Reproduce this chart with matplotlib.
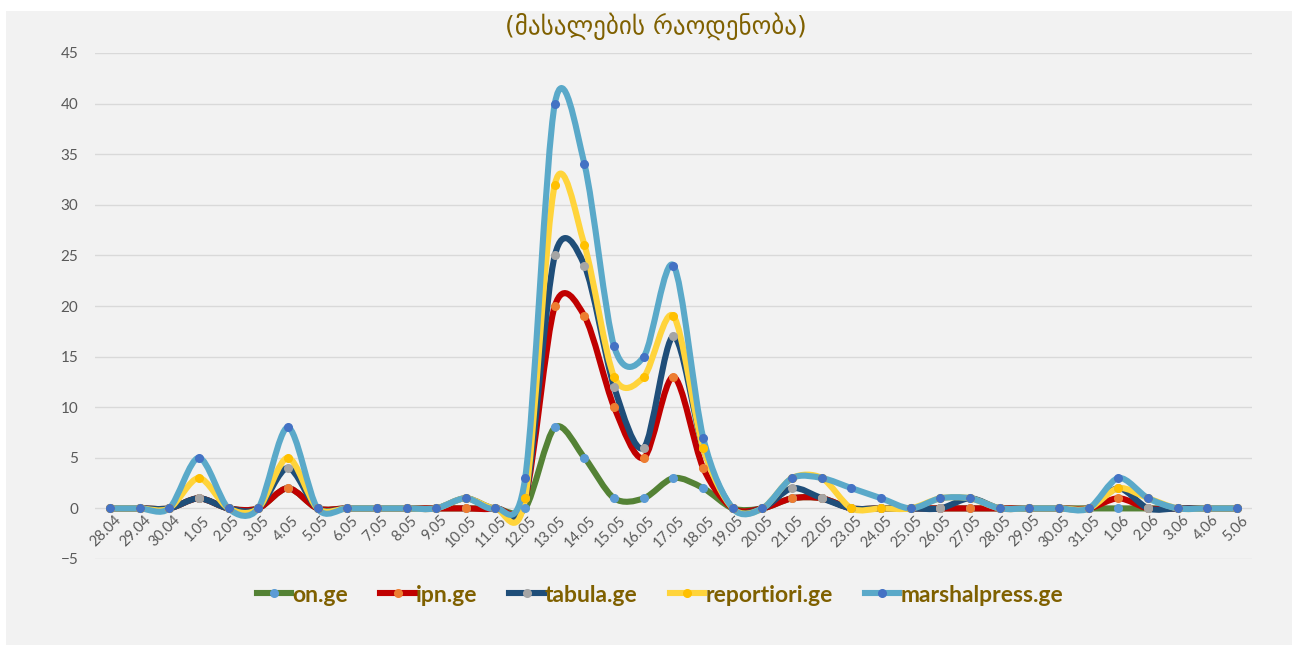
import numpy as np
import matplotlib.pyplot as plt
import matplotlib.transforms as mtransforms
from matplotlib.path import Path
from matplotlib.patches import PathPatch, Rectangle
from matplotlib.lines import Line2D

dates = ['28.04', '29.04', '30.04', '1.05', '2.05', '3.05', '4.05', '5.05', '6.05', '7.05',
         '8.05', '9.05', '10.05', '11.05', '12.05', '13.05', '14.05', '15.05', '16.05', '17.05',
         '18.05', '19.05', '20.05', '21.05', '22.05', '23.05', '24.05', '25.05', '26.05', '27.05',
         '28.05', '29.05', '30.05', '31.05', '1.06', '2.06', '3.06', '4.06', '5.06']

# values as shown on the chart (stacked lines)
on_ge = [0, 0, 0, 1, 0, 0, 2, 0, 0, 0, 0, 0, 0, 0, 0, 8, 5, 1, 1, 3,
         2, 0, 0, 1, 1, 0, 0, 0, 0, 0, 0, 0, 0, 0, 0, 0, 0, 0, 0]
ipn_ge = [0, 0, 0, 1, 0, 0, 2, 0, 0, 0, 0, 0, 0, 0, 1, 20, 19, 10, 5, 13,
          4, 0, 0, 1, 1, 0, 0, 0, 0, 0, 0, 0, 0, 0, 1, 0, 0, 0, 0]
tabula_ge = [0, 0, 0, 1, 0, 0, 4, 0, 0, 0, 0, 0, 1, 0, 1, 25, 24, 12, 6, 17,
             6, 0, 0, 2, 1, 0, 0, 0, 0, 1, 0, 0, 0, 0, 2, 0, 0, 0, 0]
reportiori_ge = [0, 0, 0, 3, 0, 0, 5, 0, 0, 0, 0, 0, 1, 0, 1, 32, 26, 13, 13, 19,
                 6, 0, 0, 3, 3, 0, 0, 0, 1, 1, 0, 0, 0, 0, 2, 1, 0, 0, 0]
marshalpress_ge = [0, 0, 0, 5, 0, 0, 8, 0, 0, 0, 0, 0, 1, 0, 3, 40, 34, 16, 15, 24,
                   7, 0, 0, 3, 3, 2, 1, 0, 1, 1, 0, 0, 0, 0, 3, 1, 0, 0, 0]

series = [
    ('on.ge', on_ge, '#548235', '#5b9bd5'),
    ('ipn.ge', ipn_ge, '#c00000', '#ed7d31'),
    ('tabula.ge', tabula_ge, '#1f4e79', '#a5a5a5'),
    ('reportiori.ge', reportiori_ge, '#ffd43b', '#ffc000'),
    ('marshalpress.ge', marshalpress_ge, '#5aa9c9', '#4472c4'),
]

title_color = '#7f6000'
tick_color = '#595959'


def smooth_path(x, y, k=0.15):
    # smoothed line like Excel: cubic Bezier segments with Catmull-Rom style handles
    pts = np.column_stack([x, y]).astype(float)
    n = len(pts)
    verts = [pts[0]]
    codes = [Path.MOVETO]
    for i in range(n - 1):
        p0 = pts[i - 1] if i > 0 else pts[i]
        p1 = pts[i]
        p2 = pts[i + 1]
        p3 = pts[i + 2] if i + 2 < n else pts[i + 1]
        c1 = p1 + (p2 - p0) * k
        c2 = p2 - (p3 - p1) * k
        verts += [c1, c2, p2]
        codes += [Path.CURVE4] * 3
    return Path(verts, codes)


fig = plt.figure(figsize=(12.95, 6.45), dpi=100)
fig.patch.set_facecolor('white')
fig.patches.append(Rectangle((6 / 1295, 0), (1292 - 6) / 1295, 1 - 11 / 645,
                             transform=fig.transFigure, facecolor='#f2f2f2',
                             edgecolor='none', zorder=-10))

ax = fig.add_axes([95 / 1295, 1 - 559 / 645, (1252 - 95) / 1295, (559 - 53) / 645])
ax.set_facecolor('none')

x = np.arange(len(dates))
handles = []
for name, vals, lc, mc in series:
    patch = PathPatch(smooth_path(x, vals), facecolor='none', edgecolor=lc,
                      lw=4.4, capstyle='round', joinstyle='round', zorder=3)
    ax.add_patch(patch)
    ax.plot(x, vals, linestyle='none', marker='o', ms=5.5, color=mc, zorder=4)
    handles.append(Line2D([0], [0], color=lc, lw=4.4, marker='o', ms=5.5,
                          markerfacecolor=mc, markeredgecolor=mc))

ax.set_xlim(-0.5, len(dates) - 0.5)
ax.set_ylim(-5, 45)
ax.set_yticks(np.arange(-5, 46, 5))
ax.grid(axis='y', color='#d9d9d9', lw=1)
ax.set_axisbelow(True)
for s in ax.spines.values():
    s.set_visible(False)
ax.tick_params(length=0, colors=tick_color, labelsize=11)
ax.tick_params(axis='y', pad=12)
ax.set_xticks(x)
ax.set_xticklabels(dates, rotation=45, ha='right', rotation_mode='anchor', fontsize=10.5)
ax.tick_params(axis='x', pad=-33)
shift = mtransforms.ScaledTranslation(4 / 100, 0, fig.dpi_scale_trans)
for lab in ax.get_xticklabels():
    lab.set_transform(lab.get_transform() + shift)
for lab in ax.get_xticklabels() + ax.get_yticklabels():
    lab.set_fontfamily('Lato')

fig.text(656 / 1295, 1 - 26 / 645, '(მასალების რაოდენობა)', ha='center', va='center',
         fontsize=18, color=title_color, family=['DejaVu Sans'])
fig.patches.append(Rectangle((0, 1 - 11 / 645), 1287 / 1295, 11 / 645,
                             transform=fig.transFigure, facecolor='white',
                             edgecolor='none', zorder=10))

leg = fig.legend(handles, [s[0] for s in series], loc='center',
                 bbox_to_anchor=(660 / 1295, 1 - 595 / 645), ncol=5, frameon=False,
                 handlelength=1.5, handletextpad=0.05, columnspacing=1.4,
                 prop={'family': 'Lato', 'weight': 'bold', 'size': 16.5})
for t in leg.get_texts():
    t.set_color(title_color)

fig.savefig('out.png', dpi=100)
